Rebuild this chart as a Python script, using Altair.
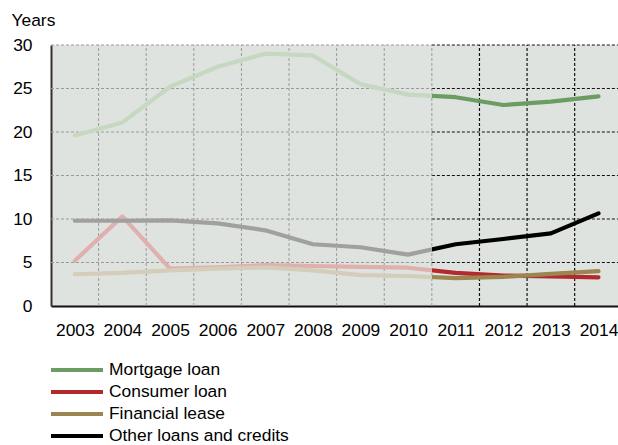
import altair as alt
import pandas as pd

# ---- data ----
years = list(range(2003, 2015))
series_names = ["Mortgage loan", "Consumer loan", "Financial lease", "Other loans and credits"]
mortgage = [19.6, 21.1, 25.2, 27.5, 29.0, 28.8, 25.5, 24.3, 24.0, 23.1, 23.5, 24.1]
consumer = [5.2, 10.3, 4.3, 4.45, 4.7, 4.6, 4.5, 4.4, 3.8, 3.5, 3.4, 3.3]
financial = [3.65, 3.8, 4.1, 4.3, 4.45, 4.1, 3.55, 3.45, 3.2, 3.35, 3.7, 4.0]
other = [9.8, 9.8, 9.85, 9.5, 8.7, 7.1, 6.75, 5.9, 7.1, 7.7, 8.35, 10.65]
y_ticks = [0, 5, 10, 15, 20, 25, 30]
split_year = 2010.5

light_colors = ["#c6d7c2", "#dfb0ae", "#d3cdb9", "#a0a0a0"]
dark_colors = ["#6b9d63", "#b32a2c", "#9b8550", "#000000"]

W, H = 567, 261
x_dom = [2002.5, 2014.41]
xs = alt.Scale(domain=x_dom, nice=False, zero=False)
ys = alt.Scale(domain=[0, 30], nice=False)

FONT = "Liberation Sans"
FS = 17.4

x_axis = alt.Axis(values=years, format="d", labelFontSize=FS, labelFont=FONT, labelColor="#000",
                  ticks=False, grid=False, domainColor="#111", domainWidth=2, labelPadding=15,
                  title=None, labelFlush=False)
y_axis = alt.Axis(values=y_ticks, labelFontSize=FS, labelFont=FONT, labelColor="#000",
                  ticks=False, grid=False, domainColor="#333", domainWidth=2, labelPadding=19,
                  title="Years", titleAngle=0, titleAlign="left", titleBaseline="alphabetic",
                  titleX=-40, titleY=-20, titleFont=FONT, titleFontSize=FS, titleFontWeight="normal",
                  titleColor="#000")

# ---- grid lines (left = history, right = forecast) ----
grid_y = y_ticks[1:]
bounds = [y + 0.5 for y in years[:-1]]
hgrid_left = pd.DataFrame({"y": grid_y, "xa": x_dom[0], "xb": split_year})
hgrid_right = pd.DataFrame({"y": grid_y, "xa": split_year, "xb": x_dom[1]})
vgrid_left = pd.DataFrame({"x": [b for b in bounds if b <= split_year], "ya": 0, "yb": 30})
vgrid_right = pd.DataFrame({"x": [b for b in bounds if b > split_year], "ya": 0, "yb": 30})

def hrule(df, color, width):
    return alt.Chart(df).mark_rule(color=color, strokeDash=[3, 2], strokeWidth=width).encode(
        x=alt.X("xa:Q", scale=xs, axis=x_axis), x2="xb:Q",
        y=alt.Y("y:Q", scale=ys, axis=y_axis))

def vrule(df, color, width):
    return alt.Chart(df).mark_rule(color=color, strokeDash=[3, 2], strokeWidth=width).encode(
        x=alt.X("x:Q", scale=xs, axis=x_axis),
        y=alt.Y("ya:Q", scale=ys, axis=y_axis), y2="yb:Q")

h_left = hrule(hgrid_left, "#9a9a9a", 1)
h_right = hrule(hgrid_right, "#111", 1.2)
v_left = vrule(vgrid_left, "#9a9a9a", 1)
v_right = vrule(vgrid_right, "#111", 1.2)

# ---- lines: faded for history, strong after the split ----
off = (split_year - years[0]) / (years[-1] - years[0])
line_layers = []
for name, vals, lc, dc in zip(series_names, [mortgage, consumer, financial, other], light_colors, dark_colors):
    df = pd.DataFrame({"year": years, "value": vals, "series": name})
    grad = {"gradient": "linear", "x1": 0, "x2": 1, "y1": 0, "y2": 0,
            "stops": [{"color": lc, "offset": 0}, {"color": lc, "offset": off},
                      {"color": dc, "offset": off}, {"color": dc, "offset": 1}]}
    line_layers.append(
        alt.Chart(df).mark_line(stroke=grad, strokeWidth=4.2, strokeCap="round", strokeJoin="round").encode(
            x=alt.X("year:Q", scale=xs, axis=x_axis),
            y=alt.Y("value:Q", scale=ys, axis=y_axis)))

# ---- legend (bottom left), one row per series ----
legend_layers = []
for i, (name, dc) in enumerate(zip(series_names, dark_colors)):
    py = 325 + 22 * i
    row = pd.DataFrame({"name": [name]})
    legend_layers.append(alt.Chart(row).mark_rule(strokeWidth=4, color=dc).encode(
        x=alt.value(0), x2=alt.value(52), y=alt.value(py)))
    legend_layers.append(alt.Chart(row).mark_text(align="left", baseline="middle", fontSize=FS,
                                                   font=FONT, color="#000").encode(
        x=alt.value(58), y=alt.value(py), text="name:N"))

chart = alt.layer(h_left, h_right, v_left, v_right, *line_layers, *legend_layers).properties(
    width=W, height=H,
    background="white",
    autosize=alt.AutoSizeParams(type="none"),
    padding={"left": 51, "top": 45, "right": 0, "bottom": 139},
).configure_view(fill="#dfe3df", stroke=None)

chart.save("out.html", embed_options={"renderer": "svg", "actions": False})
